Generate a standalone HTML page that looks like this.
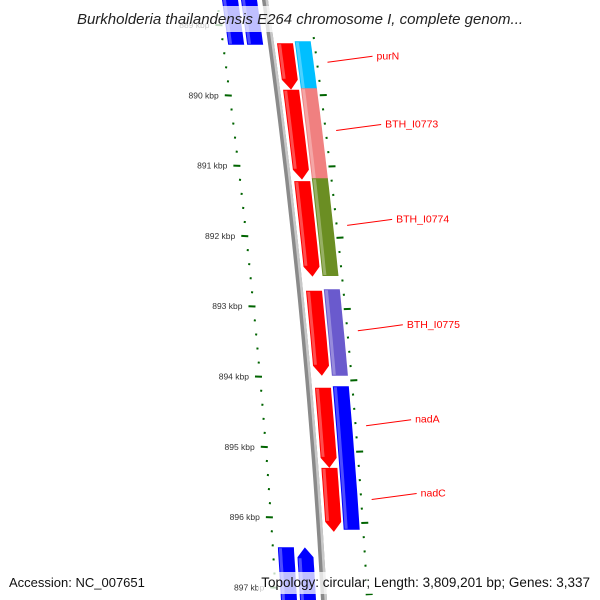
<!DOCTYPE html>
<html><head><meta charset="utf-8"><style>
html,body{margin:0;padding:0;background:#fff;width:600px;height:600px;overflow:hidden}
svg{display:block;overflow:hidden;font-family:"Liberation Sans","DejaVu Sans",sans-serif}
</style></head><body>
<svg id="map" width="600" height="600" viewBox="0 0 600 600">
<rect width="600" height="600" fill="#fff"/>
<g id="ticksL"></g>
<g id="ticksR"></g>
<g id="backbone"></g>
<g id="feats"></g>
<g id="labels"></g>
<rect x="66" y="6" width="470" height="26" fill="#fff" fill-opacity="0.75"/>
<text x="300" y="24" text-anchor="middle" font-size="15" font-style="italic" fill="#222">Burkholderia thailandensis E264 chromosome I, complete genom...</text>
<rect x="4" y="572" width="146" height="22" fill="#fff" fill-opacity="0.75"/>
<text x="9" y="587" font-size="13" fill="#111">Accession: NC_007651</text>
<rect x="258" y="572" width="338" height="22" fill="#fff" fill-opacity="0.75"/>
<text x="590" y="587" text-anchor="end" font-size="13.5" fill="#111">Topology: circular; Length: 3,809,201 bp; Genes: 3,337</text>
</svg>
<script>
const featStart=[889.26,889.92,891.22,892.78,894.16,895.30, 889.23,889.90,891.18,892.76,894.14, 888.4,888.4,896.43,896.43];
const featEnd=[889.92,891.20,892.58,893.99,895.30,896.21, 889.92,891.20,892.57,893.99,896.18, 889.28,889.28,897.6,897.6];
const featStrand=[-1,-1,-1,-1,-1,-1, 0,0,0,0,0, 0,0,0,1];
const featColor=["#ff0000","#ff0000","#ff0000","#ff0000","#ff0000","#ff0000","#00bfff","#f08080","#6b8e23","#6a5acd","#0000ff","#0000ff","#0000ff","#0000ff","#0000ff"];
const featLane=[1,1,1,1,1,1,2,2,2,2,2,-2,-1,-2,-1];
const majorKbp=[889,890,891,892,893,894,895,896,897];
const labelNames=["purN","BTH_I0773","BTH_I0774","BTH_I0775","nadA","nadC"];
const labelKbp=[889.53,890.5,891.85,893.35,894.7,895.75];

const NS="http://www.w3.org/2000/svg";
function yL(k){return 25+(k-889)*70.3;}
function yR(k){return 81+(k-889.8)*71.3;}
function f(y){return 0.1408*y-7.08e-5*y*y;}
function X(u,y){return u+f(y);}
function mk(tag,attrs,parent){const e=document.createElementNS(NS,tag);for(const k in attrs)e.setAttribute(k,attrs[k]);parent.appendChild(e);return e;}
const laneU={1:[271,287],2:[289,305],"-2":[222,238],"-1":[241,257]};
const clampY=y=>Math.max(-2,Math.min(602,y));

const bb=document.getElementById('backbone');
function strip(u0,u1,y0,y1,n){let l=[],r=[];for(let i=0;i<=n;i++){const y=y0+(y1-y0)*i/n;l.push(X(u0,y).toFixed(1)+","+y.toFixed(1));r.unshift(X(u1,y).toFixed(1)+","+y.toFixed(1));}return l.concat(r).join(" ");}
let p=mk('polygon',{points:strip(262,268,0,600,30),fill:"#8a8a8a"},bb);

p=mk('polygon',{points:strip(265.5,268,0,600,30),fill:"#c8c8c8"},bb);


const fg=document.getElementById('feats');
for(let i=0;i<featStart.length;i++){
  const [u0,u1]=laneU[featLane[i]];
  let y0=yL(featStart[i]),y1=yL(featEnd[i]);
  const s=featStrand[i],n=12,ah=10,um=(u0+u1)/2;
  let a0=y0,a1=y1;
  if(s===-1)a1=y1-ah; if(s===1)a0=y0+ah;
  a0=clampY(a0);a1=clampY(a1);
  let pts=[];
  if(s===1)pts.push(X(um,y0)+","+y0);
  for(let j=0;j<=n;j++){const y=a0+(a1-a0)*j/n;pts.push(X(u1,y).toFixed(1)+","+y.toFixed(1));}
  if(s===-1)pts.push(X(um,y1)+","+y1);
  for(let j=n;j>=0;j--){const y=a0+(a1-a0)*j/n;pts.push(X(u0,y).toFixed(1)+","+y.toFixed(1));}
  const g=mk('polygon',{points:pts.join(" "),fill:featColor[i]},fg);
  
  
  const hl=mk('polygon',{points:strip(u0+1,u0+4,a0+1,a1-1,n),fill:"#fff","fill-opacity":"0.3"},fg);
  
  
}

const tl=document.getElementById('ticksL');
for(let k=888.6;k<=897.3;k+=0.2){
  const y=yL(k);if(y<0||y>598)continue;
  const isMaj=Math.abs(k-Math.round(k))<0.01;
  const uL=isMaj?212:216, uR=isMaj?219:218;
  const t=mk('line',{x1:X(uL,y),y1:y,x2:X(uR,y),y2:y+0.3,stroke:"#006400","stroke-width":2},tl);
  
  
}
majorKbp.forEach(k=>{const y=yL(k);
  const t=mk('text',{x:X(206,y),y:y+3,"text-anchor":"end","font-size":"8.5",fill:"#333"},tl);
  t.textContent=k+" kbp";
  
  
});
const tr=document.getElementById('ticksR');
for(let k=889.2;k<=897.3;k+=0.2){
  const y=yR(k);if(y<0||y>598)continue;
  const isMaj=Math.abs(k-Math.round(k))<0.01;
  const t=mk('line',{x1:X(isMaj?307:307.5,y),y1:y,x2:X(isMaj?314:309.5,y),y2:y-0.3,stroke:"#006400","stroke-width":2},tr);
  
  
}
const lg=document.getElementById('labels');
labelNames.forEach((nm,i)=>{const y=yL(labelKbp[i]);const x0=X(309,y)+10;
  const l=mk('line',{x1:x0,y1:y,x2:x0+45,y2:y-6,stroke:"#ff0000","stroke-width":1},lg);
  
  
  const t=mk('text',{x:x0+49,y:y-3,"font-size":"10.5",fill:"#ff0000"},lg);
  t.textContent=nm;
  
  
});
</script>
</body></html>
